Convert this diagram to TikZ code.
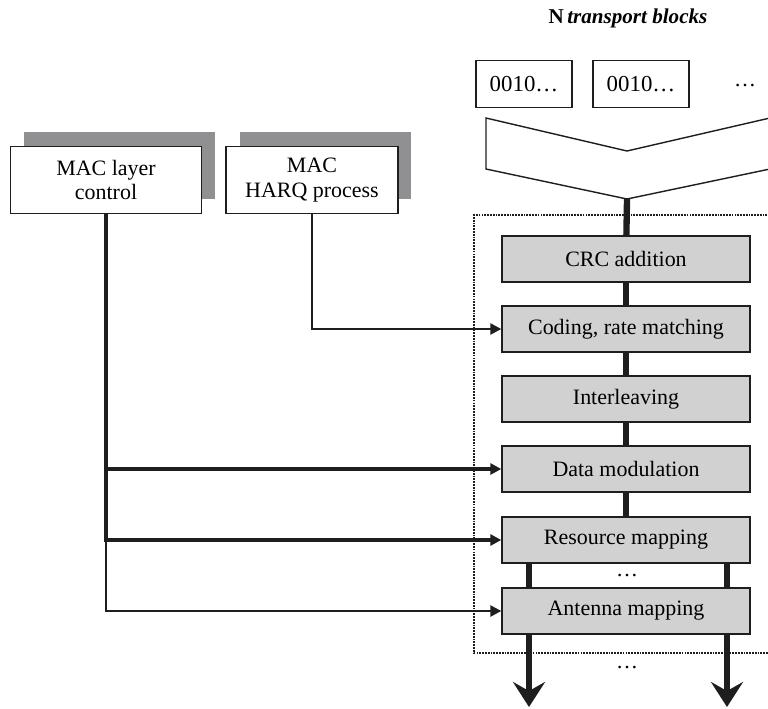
\documentclass[tikz,border=0pt]{standalone}
\usepackage{fontspec}
\setmainfont{Liberation Serif}
\usepackage{xcolor}
\definecolor{box_gray}{RGB}{209, 209, 209}
\definecolor{shade_gray}{RGB}{144, 144, 146}
\definecolor{ink}{RGB}{30, 30, 30}
\usetikzlibrary{arrows.meta, shadows}

\begin{document}
\begin{tikzpicture}[x=0.02cm, y=-0.02cm, font=\fontsize{12.5}{14}\selectfont,
      proc/.style={draw=ink, line width=0.8pt, fill=box_gray,
                   minimum width=4.96cm, minimum height=0.92cm, inner sep=0pt},
      mac/.style={draw=ink, line width=0.9pt, fill=white, align=center,
                  minimum height=1.34cm, inner sep=0pt,
                  drop shadow={shadow xshift=0.27cm, shadow yshift=0.3cm,
                               fill=shade_gray, opacity=1}},
      bits/.style={draw=ink, line width=0.8pt, fill=white,
                   minimum width=1.92cm, minimum height=0.94cm},
      bus/.style={line width=3.6pt, ink},
      ctl/.style={line width=2.1pt, ink, -{Triangle[length=0.22cm, width=0.22cm]}},
      ctlthin/.style={line width=1.4pt, ink, -{Triangle[length=0.22cm, width=0.22cm]}},
      outbus/.style={line width=3.6pt, ink, -{Stealth[length=0.5cm, width=0.64cm, inset=0.18cm]}}]
      \useasboundingbox (0,0) rectangle (768,708);
      \node[font=\fontsize{12}{14}\selectfont\bfseries] (title) at (628,18)
        {N\,\textit{transport blocks}};
      \node[bits, font=\fontsize{13}{15}\selectfont] (b1) at (524,84) {0010\dots};
      \node[bits, font=\fontsize{13}{15}\selectfont] (b2) at (641,84) {0010\dots};
      \node (bdots) at (745,86) {\dots};
      \draw[ink, line width=0.8pt, fill=white]
        (486,118) -- (627,151) -- (770,118) -- (770,169) -- (627,199) -- (486,169) -- cycle;
      \coordinate (tip) at (627,199);
      \draw[ink, line width=1.3pt, dash pattern=on 1pt off 0.6pt]
        (770,215) -- (474,215) -- (474,653) -- (770,653);
      \node[proc] (crc)  at (626,259) {CRC addition};
      \node[proc] (code) at (626,329) {Coding, rate matching};
      \node[proc] (intl) at (626,399) {Interleaving};
      \node[proc] (mod)  at (626,469) {Data modulation};
      \node[proc] (res)  at (626,540) {Resource mapping};
      \node[proc] (ant)  at (626,611) {Antenna mapping};
      \node (rdots) at (627,576) {\dots};
      \node (odots) at (627,668) {\dots};
      \coordinate (outl) at (529,707);
      \coordinate (outr) at (727,707);
      \draw[bus] (tip) -- (crc);
      \draw[bus] (crc) -- (code);
      \draw[bus] (code) -- (intl);
      \draw[bus] (intl) -- (mod);
      \draw[bus] (mod) -- (res);
      \draw[bus] (res.south -| outl) -- (ant.north -| outl);
      \draw[bus] (res.south -| outr) -- (ant.north -| outr);
      \draw[outbus] (ant.south -| outl) -- (outl);
      \draw[outbus] (ant.south -| outr) -- (outr);
      \node[mac, minimum width=3.82cm] (ctrl) at (106,180) {MAC layer\\control};
      \node[mac, minimum width=3.44cm] (harq) at (312,180) {MAC\\HARQ process};
      \draw[ctlthin] (ctrl.south) |- (ant.west);
      \draw[ctl] (ctrl.south) |- (mod.west);
      \draw[ctl] (ctrl.south) |- (res.west);
      \draw[ctlthin] (harq.south) |- (code.west);
    \end{tikzpicture}
\end{document}
